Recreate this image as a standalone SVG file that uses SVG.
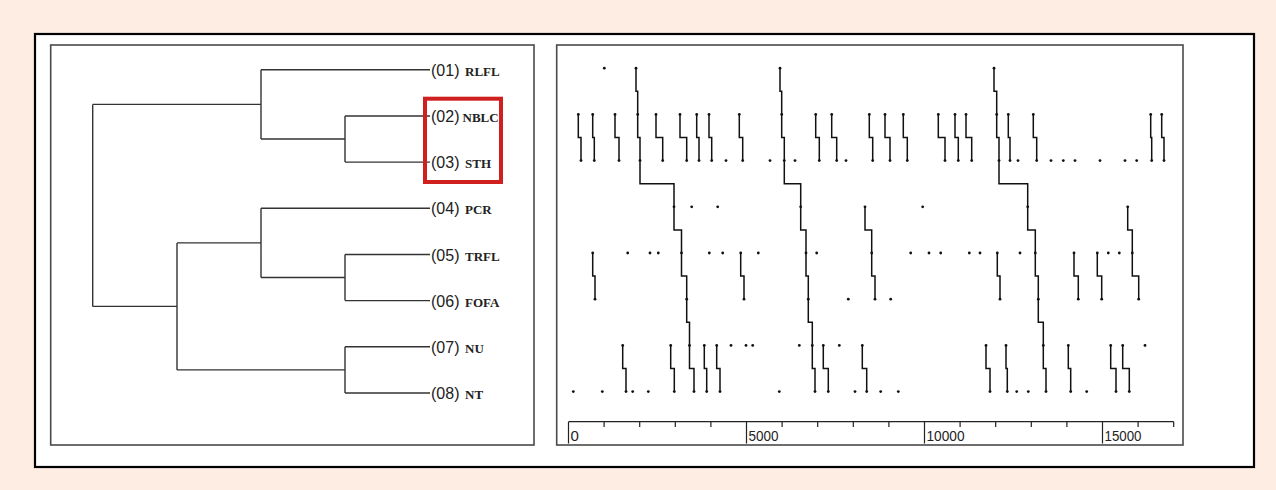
<svg xmlns="http://www.w3.org/2000/svg" width="1276" height="490" viewBox="0 0 1276 490">
<style>
.frame{fill:#fff;stroke:#000;stroke-width:2.2}
.panel{fill:#fff;stroke:#4a4a4a;stroke-width:1.6}
.tree{fill:none;stroke:#333;stroke-width:1.4}
.ev{fill:none;stroke:#111;stroke-width:1.5}
.dot circle{fill:#111}
.num{font-family:"Liberation Sans",Arial,sans-serif;font-size:16px;fill:#222}
.name{font-family:"Liberation Serif","Times New Roman",serif;font-size:13px;font-weight:bold;fill:#222}
.ax{font-family:"Liberation Sans",Arial,sans-serif;font-size:15px;fill:#222}
.axis{fill:none;stroke:#222;stroke-width:1.2}
</style>
<rect width="1276" height="490" fill="#fdede3"/>
<rect class="frame" x="35" y="34" width="1219" height="433"/>
<rect class="panel" x="50.7" y="45" width="483.3" height="400"/>
<rect class="panel" x="556.7" y="45" width="626.3" height="400"/>

<g id="connectors">
<path class="tree" d="M261,69.8H430M345,116H430M345,162.1H430M261,208.3H430M345,254.5H430M345,300.6H430M345,346.8H430M345,393H430
M345,116V162.1M261,139.05H345M261,69.8V139.05M92.7,104.4H261
M345,254.5V300.6M261,277.55H345M261,208.3V277.55M177,242.9H261
M345,346.8V393M177,369.9H345M177,242.9V369.9M92.7,306.4H177M92.7,104.4V306.4"/>
</g>

<g id="leaf01"><text x="431" y="76"><tspan class="num">(01)</tspan><tspan class="name" x="465">RLFL</tspan></text></g>
<g id="leaf02"><text x="431" y="122"><tspan class="num">(02)</tspan><tspan class="name" x="462.5">NBLC</tspan></text></g>
<g id="leaf03"><text x="431" y="168"><tspan class="num">(03)</tspan><tspan class="name" x="465">STH</tspan></text></g>
<g id="leaf04"><text x="431" y="214.3"><tspan class="num">(04)</tspan><tspan class="name" x="465">PCR</tspan></text></g>
<g id="leaf05"><text x="431" y="260.5"><tspan class="num">(05)</tspan><tspan class="name" x="465">TRFL</tspan></text></g>
<g id="leaf06"><text x="431" y="306.6"><tspan class="num">(06)</tspan><tspan class="name" x="465">FOFA</tspan></text></g>
<g id="leaf07"><text x="431" y="352.8"><tspan class="num">(07)</tspan><tspan class="name" x="465">NU</tspan></text></g>
<g id="leaf08"><text x="431" y="399"><tspan class="num">(08)</tspan><tspan class="name" x="465">NT</tspan></text></g>

<g id="highlight"><rect x="425" y="98.7" width="76" height="83.3" fill="none" stroke="#cf1f1f" stroke-width="4"/></g>

<g id="raster">
<path class="ev" d="M636,68.2V91.3H637.7V137.5H640V183.7H674V229.9H681.5V276.1H686.7V322.3H689.5V368.5H694V391.6
M780,68.2V91.3H781.7V137.5H784.3V183.7H800.7V229.9H806V276.1H808.3V322.3H812.3V368.5H815V391.6
M994,68.2V91.3H996.7V137.5H999V183.7H1027.7V229.9H1035.3V276.1H1038.3V322.3H1043.3V368.5H1046V391.6
M1127.7,206.8V229.9H1132.3V276.1H1138.7V299.2
M865,206.8V229.9H871.7V276.1H875V299.2
M578.3,114.4V137.5H581V160.6M592.7,114.4V137.5H594.3V160.6M615,114.4V137.5H619V160.6M656,114.4V137.5H662.7V160.6
M680,114.4V137.5H686.7V160.6M696.7,114.4V137.5H699V160.6M709,114.4V137.5H711.7V160.6M739.3,114.4V137.5H742.7V160.6
M815.7,114.4V137.5H819.3V160.6M831.7,114.4V137.5H836.7V160.6M869.3,114.4V137.5H872.7V160.6M885,114.4V137.5H890V160.6
M903.3,114.4V137.5H907.3V160.6M938.3,114.4V137.5H945V160.6M955,114.4V137.5H958.3V160.6M966,114.4V137.5H971.7V160.6
M1008.3,114.4V137.5H1010V160.6M1033.3,114.4V137.5H1036.7V160.6M1150.7,114.4V137.5H1151.7V160.6M1161.7,114.4V137.5H1164V160.6
M592.7,253V276.1H595V299.2M740.7,253V276.1H744V299.2M997.3,253V276.1H1000V299.2M1074,253V276.1H1078.3V299.2M1097.3,253V276.1H1101.7V299.2
M622.7,345.4V368.5H626V391.6M670.7,345.4V368.5H674.3V391.6M704.3,345.4V368.5H706.7V391.6M716.7,345.4V368.5H720V391.6
M823.3,345.4V368.5H828.3V391.6M862.3,345.4V368.5H866.7V391.6M986,345.4V368.5H990V391.6M1006,345.4V368.5H1007.3V391.6
M1068.3,345.4V368.5H1070.7V391.6M1110.7,345.4V368.5H1116V391.6M1122.7,345.4V368.5H1129.3V391.6"/>
<g class="dot">
<g transform="translate(0,68.2)"><circle cx="604.3" r="1.4"/><circle cx="636" r="1.4"/><circle cx="780" r="1.4"/><circle cx="994" r="1.4"/></g>
<g transform="translate(0,114.4)"><circle cx="578.3" r="1.4"/><circle cx="592.7" r="1.4"/><circle cx="615" r="1.4"/><circle cx="637.7" r="1.4"/><circle cx="656" r="1.4"/><circle cx="680" r="1.4"/><circle cx="696.7" r="1.4"/><circle cx="709" r="1.4"/><circle cx="739.3" r="1.4"/><circle cx="781.7" r="1.4"/><circle cx="815.7" r="1.4"/><circle cx="831.7" r="1.4"/><circle cx="869.3" r="1.4"/><circle cx="885" r="1.4"/><circle cx="903.3" r="1.4"/><circle cx="938.3" r="1.4"/><circle cx="955" r="1.4"/><circle cx="966" r="1.4"/><circle cx="996.7" r="1.4"/><circle cx="1008.3" r="1.4"/><circle cx="1033.3" r="1.4"/><circle cx="1150.7" r="1.4"/><circle cx="1161.7" r="1.4"/></g>
<g transform="translate(0,160.6)"><circle cx="581" r="1.4"/><circle cx="594.3" r="1.4"/><circle cx="619" r="1.4"/><circle cx="640" r="1.4"/><circle cx="662.7" r="1.4"/><circle cx="686.7" r="1.4"/><circle cx="699" r="1.4"/><circle cx="711.7" r="1.4"/><circle cx="726" r="1.4"/><circle cx="742.7" r="1.4"/><circle cx="770" r="1.4"/><circle cx="784.3" r="1.4"/><circle cx="795" r="1.4"/><circle cx="819.3" r="1.4"/><circle cx="836.7" r="1.4"/><circle cx="846" r="1.4"/><circle cx="872.7" r="1.4"/><circle cx="890" r="1.4"/><circle cx="907.3" r="1.4"/><circle cx="945" r="1.4"/><circle cx="958.3" r="1.4"/><circle cx="971.7" r="1.4"/><circle cx="999" r="1.4"/><circle cx="1010" r="1.4"/><circle cx="1018" r="1.4"/><circle cx="1036.7" r="1.4"/><circle cx="1051" r="1.4"/><circle cx="1063.3" r="1.4"/><circle cx="1075" r="1.4"/><circle cx="1100" r="1.4"/><circle cx="1125" r="1.4"/><circle cx="1136.7" r="1.4"/><circle cx="1151.7" r="1.4"/><circle cx="1164" r="1.4"/></g>
<g transform="translate(0,206.8)"><circle cx="674" r="1.4"/><circle cx="691.7" r="1.4"/><circle cx="717.7" r="1.4"/><circle cx="800.7" r="1.4"/><circle cx="865" r="1.4"/><circle cx="922.7" r="1.4"/><circle cx="1027.7" r="1.4"/><circle cx="1127.7" r="1.4"/></g>
<g transform="translate(0,253)"><circle cx="592.7" r="1.4"/><circle cx="627.7" r="1.4"/><circle cx="650" r="1.4"/><circle cx="658.3" r="1.4"/><circle cx="681.5" r="1.4"/><circle cx="709.3" r="1.4"/><circle cx="722.7" r="1.4"/><circle cx="740.7" r="1.4"/><circle cx="758.3" r="1.4"/><circle cx="806" r="1.4"/><circle cx="816.7" r="1.4"/><circle cx="871.7" r="1.4"/><circle cx="910.7" r="1.4"/><circle cx="929" r="1.4"/><circle cx="940.7" r="1.4"/><circle cx="969.3" r="1.4"/><circle cx="980" r="1.4"/><circle cx="997.3" r="1.4"/><circle cx="1020" r="1.4"/><circle cx="1035.3" r="1.4"/><circle cx="1074" r="1.4"/><circle cx="1097.3" r="1.4"/><circle cx="1108.3" r="1.4"/><circle cx="1119.3" r="1.4"/><circle cx="1132.3" r="1.4"/></g>
<g transform="translate(0,299.2)"><circle cx="595" r="1.4"/><circle cx="686.7" r="1.4"/><circle cx="744" r="1.4"/><circle cx="808.3" r="1.4"/><circle cx="848.3" r="1.4"/><circle cx="875" r="1.4"/><circle cx="890.7" r="1.4"/><circle cx="1000" r="1.4"/><circle cx="1038.3" r="1.4"/><circle cx="1078.3" r="1.4"/><circle cx="1101.7" r="1.4"/><circle cx="1138.7" r="1.4"/></g>
<g transform="translate(0,345.4)"><circle cx="622.7" r="1.4"/><circle cx="670.7" r="1.4"/><circle cx="689.5" r="1.4"/><circle cx="704.3" r="1.4"/><circle cx="716.7" r="1.4"/><circle cx="731" r="1.4"/><circle cx="746" r="1.4"/><circle cx="752.7" r="1.4"/><circle cx="799.3" r="1.4"/><circle cx="812.3" r="1.4"/><circle cx="823.3" r="1.4"/><circle cx="839.3" r="1.4"/><circle cx="862.3" r="1.4"/><circle cx="986" r="1.4"/><circle cx="1006" r="1.4"/><circle cx="1043.3" r="1.4"/><circle cx="1068.3" r="1.4"/><circle cx="1110.7" r="1.4"/><circle cx="1122.7" r="1.4"/><circle cx="1145" r="1.4"/></g>
<g transform="translate(0,391.6)"><circle cx="573.3" r="1.4"/><circle cx="602.3" r="1.4"/><circle cx="626" r="1.4"/><circle cx="632.7" r="1.4"/><circle cx="648.3" r="1.4"/><circle cx="674.3" r="1.4"/><circle cx="694" r="1.4"/><circle cx="706.7" r="1.4"/><circle cx="720" r="1.4"/><circle cx="779.3" r="1.4"/><circle cx="815" r="1.4"/><circle cx="828.3" r="1.4"/><circle cx="855" r="1.4"/><circle cx="866.7" r="1.4"/><circle cx="880.7" r="1.4"/><circle cx="898.3" r="1.4"/><circle cx="990" r="1.4"/><circle cx="1007.3" r="1.4"/><circle cx="1016.7" r="1.4"/><circle cx="1028.3" r="1.4"/><circle cx="1046" r="1.4"/><circle cx="1070.7" r="1.4"/><circle cx="1086.7" r="1.4"/><circle cx="1116" r="1.4"/><circle cx="1129.3" r="1.4"/></g>
</g>
</g>

<g id="axis">
<path class="axis" d="M568.5,421.7H1173.7
M568.5,421.7V443.5M746.5,421.7V443.5M924.5,421.7V443.5M1102.5,421.7V443.5
M604.1,421.7V427M639.7,421.7V427M675.3,421.7V427M710.9,421.7V427
M782.1,421.7V427M817.7,421.7V427M853.3,421.7V427M888.9,421.7V427
M960.1,421.7V427M995.7,421.7V427M1031.3,421.7V427M1066.9,421.7V427
M1138.1,421.7V427M1173.7,421.7V427"/>
<text class="ax" x="570.5" y="441">0</text>
<text class="ax" x="748.5" y="441" textLength="30" lengthAdjust="spacingAndGlyphs">5000</text>
<text class="ax" x="926.5" y="441" textLength="38" lengthAdjust="spacingAndGlyphs">10000</text>
<text class="ax" x="1104.5" y="441" textLength="37" lengthAdjust="spacingAndGlyphs">15000</text>
</g>
</svg>
